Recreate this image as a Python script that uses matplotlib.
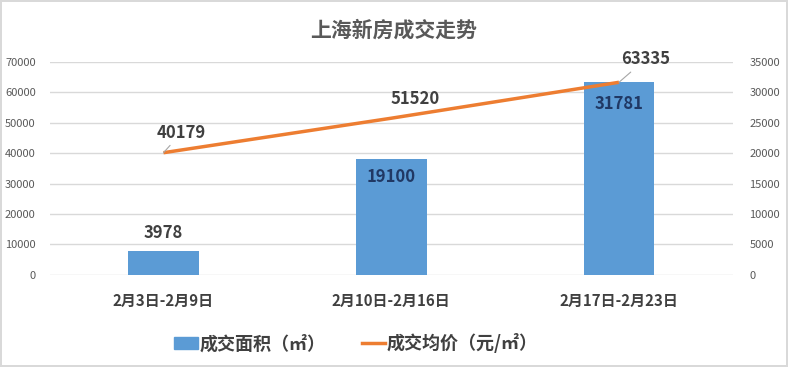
import matplotlib.pyplot as plt
from matplotlib.patches import Patch
from matplotlib.lines import Line2D

plt.rcParams['font.family'] = ['Noto Sans CJK SC', 'DejaVu Sans']

categories = ["2月3日-2月9日", "2月10日-2月16日", "2月17日-2月23日"]
area = [3978, 19100, 31781]          # 成交面积, right axis
price = [40179, 51520, 63335]        # 成交均价, left axis

BLUE = "#5B9BD5"
ORANGE = "#ED7D31"
GRID = "#D9D9D9"
TXT = "#595959"
DARK = "#404040"

fig = plt.figure(figsize=(7.88, 3.67), dpi=100)
fig.patch.set_edgecolor(GRID)
fig.patch.set_linewidth(1.5)
ax = fig.add_axes([0.063, 0.251, 0.867, 0.580])
ax2 = ax.twinx()

x = list(range(len(categories)))

# bars on the secondary axis, behind the line
ax2.bar(x, area, width=0.31, color=BLUE, zorder=2)
ax2.set_ylim(0, 35000)
ax2.set_yticks(range(0, 35001, 5000))
ax2.yaxis.grid(True, color=GRID, linewidth=1)
ax2.set_axisbelow(True)

ax.plot(x, price, color=ORANGE, linewidth=2.5, solid_capstyle='butt', zorder=3)
ax.set_ylim(0, 70000)
ax.set_yticks(range(0, 70001, 10000))
ax.set_xlim(-0.5, 2.5)
ax.set_xticks(x)
ax.set_xticklabels(categories, fontsize=10.8, fontweight='bold', color=DARK)
ax.set_zorder(ax2.get_zorder() + 1)
ax.patch.set_visible(False)

for a in (ax, ax2):
    for s in a.spines.values():
        s.set_visible(False)
ax.tick_params(axis='y', length=0, labelsize=8, labelcolor=TXT, pad=10)
ax2.tick_params(axis='y', length=0, labelsize=8, labelcolor=TXT, pad=12)
ax.tick_params(axis='x', length=0, pad=13)

# line labels
offsets = [(13, 8), (17, 7), (19, 10)]
leaders = [True, False, True]
for xi, v, off, ld in zip(x, price, offsets, leaders):
    ax.annotate(str(v), xy=(xi, v), xytext=off, textcoords='offset points',
                ha='center', va='bottom', fontsize=12, fontweight='bold', color=DARK,
                arrowprops=dict(arrowstyle='-', color='#A6A6A6', lw=0.8,
                                shrinkA=1, shrinkB=0) if ld else None)

# bar labels
ax2.annotate(str(area[0]), xy=(0, area[0]), xytext=(0, 6.5), textcoords='offset points',
             ha='center', va='bottom', fontsize=12, fontweight='bold', color=DARK)
for xi, dy in ((1, -6.5), (2, -9.5)):
    ax2.annotate(str(area[xi]), xy=(xi, area[xi]), xytext=(0, dy), textcoords='offset points',
                 ha='center', va='top', fontsize=12, fontweight='bold', color='#203864')

fig.text(0.499, 0.918, "上海新房成交走势", ha='center', va='center',
         fontsize=15, fontweight='bold', color=TXT)

handles = [Patch(color=BLUE), Line2D([0], [0], color=ORANGE, linewidth=2.5)]
fig.legend(handles, ["成交面积（㎡）", "成交均价（元/㎡）"], loc='center',
           bbox_to_anchor=(0.452, 0.065), ncol=2, frameon=False,
           prop=dict(size=13, weight='bold'), labelcolor=DARK,
           handlelength=1.3, handletextpad=0.1, columnspacing=2.0)

fig.savefig("out.png", dpi=100)
